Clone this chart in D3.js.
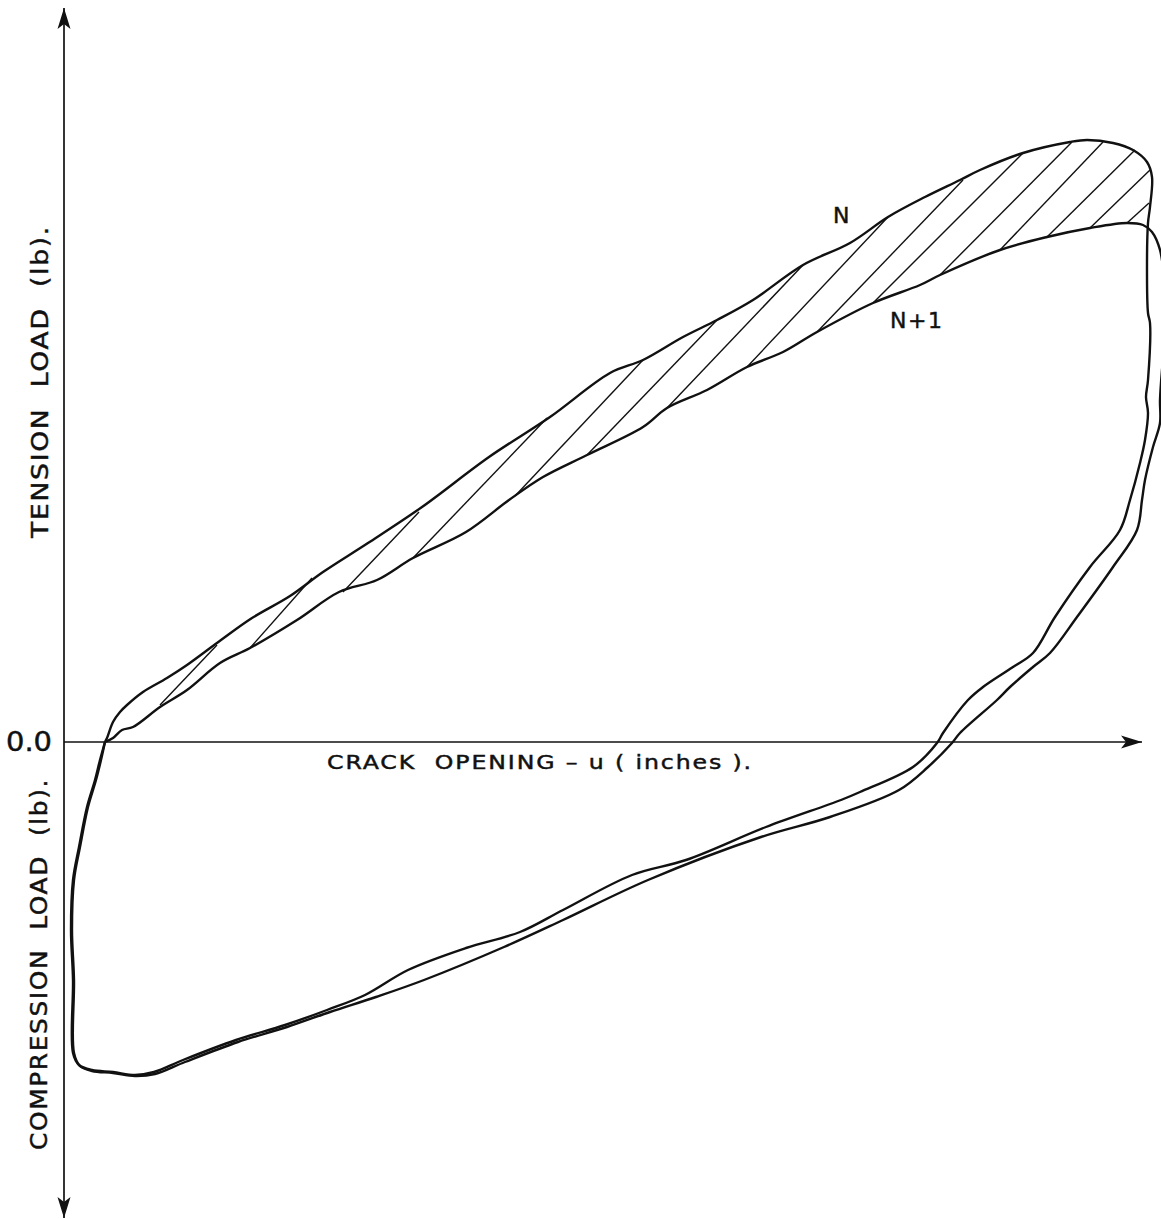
<!DOCTYPE html>
<html>
<head>
<meta charset="utf-8">
<script src="https://cdn.jsdelivr.net/npm/d3@7"></script>
<style>
  html, body { margin: 0; padding: 0; background: #fff; }
  svg { display: block; }
  text { font-family: "DejaVu Sans", "Liberation Sans", Arial, sans-serif; fill: #111; stroke: #111; stroke-width: 0.45; white-space: pre; }
</style>
</head>
<body>
<svg id="chart" width="1161" height="1219"></svg>
<script>
// ---- Data (crack opening u, load P) in arbitrary chart units ----
// Cycle N : closed hysteresis loop
const cycleN = [
  [41,0],[43,4],[49,20],[56,30],[63,37],[79,50],[103,64],[123,77],[157,102],[188,124],
  [226,146],[259,170],[304,199],[358,235],[425,285],[486,325],[546,369],[579,382],[619,405],
  [653,422],[689,442],[739,477],[786,499],[824,525],[861,545],[896,562],[916,572],[959,589],
  [1006,600],[1023,602],[1049,599],[1069,592],[1083,580],[1088,565],[1086,535],[1084,519],
  [1083,479],[1084,429],[1086,419],[1084,362],[1082,345],[1084,329],[1081,302],[1076,279],
  [1066,242],[1056,212],[1026,175],[991,125],[969,89],[949,75],[919,55],[904,42],[879,9],
  [873,-1],[849,-25],[796,-50],[777,-58],[702,-85],[622,-118],[568,-133],[499,-168],
  [456,-190],[402,-206],[344,-228],[301,-253],[263,-268],[221,-283],[172,-298],[119,-318],
  [90,-330],[71,-333],[49,-330],[28,-328],[15,-323],[9,-311],[9,-238],[7,-188],[9,-138],
  [15,-105],[23,-65],[31,-38],[36,-18],[41,0]
];
// Cycle N+1 : closed hysteresis loop
const cycleN1 = [
  [41,0],[49,4],[58,12],[69,15],[96,35],[123,52],[156,79],[186,94],[233,122],[275,150],
  [313,162],[349,184],[402,210],[445,242],[479,265],[523,287],[579,315],[603,334],[643,352],
  [683,375],[719,390],[753,410],[809,439],[856,457],[876,467],[936,492],[983,505],[1026,514],
  [1063,519],[1079,517],[1088,510],[1096,492],[1101,452],[1102,412],[1098,372],[1096,342],
  [1096,319],[1089,295],[1081,262],[1078,242],[1073,212],[1049,175],[1013,125],[986,89],
  [969,75],[946,55],[933,42],[896,9],[888,-1],[864,-25],[835,-48],[766,-75],[697,-95],
  [584,-138],[499,-178],[440,-205],[360,-238],[312,-255],[266,-270],[223,-285],[174,-300],
  [121,-320],[91,-332],[71,-334],[49,-331],[28,-329],[16,-324],[10,-311],[10,-238],[8,-188],
  [10,-138],[16,-105],[24,-65],[32,-38],[37,-18],[41,0]
];
// Hatching between loading branches (energy difference): [u1,P1,u2,P2]
const hatchSegments = [
  [96,37,153,97],[186,94,248,164],[279,150,355,230],[349,184,483,324],[451,246,579,382],
  [523,287,653,422],[603,334,739,477],[683,375,824,525],[753,410,899,562],[809,439,959,589],
  [876,467,1008,600],[936,492,1039,600],[983,505,1071,592],[1026,514,1086,572],[1063,519,1085,539]
];
const yTickValues = [0];
const curveLabels = [
  { text: "N",   u: 769, p: 519 },
  { text: "N+1", u: 826, p: 414 }
];
const xTitle = "CRACK  OPENING – u ( inches ).";
const yTitleTop = "TENSION  LOAD  (lb).";
const yTitleBottom = "COMPRESSION  LOAD  (lb).";

// ---- Scales ----
const x = d3.scaleLinear().domain([0, 1078]).range([64, 1142]);
const y = d3.scaleLinear().domain([-476, 734]).range([1218, 8]);

const svg = d3.select("#chart");
svg.append("rect").attr("width", 1161).attr("height", 1219).attr("fill", "#fff");

const defs = svg.append("defs");
defs.append("marker")
  .attr("id", "arrow")
  .attr("viewBox", "-22 -8 24 16")
  .attr("refX", 0).attr("refY", 0)
  .attr("markerUnits", "userSpaceOnUse")
  .attr("markerWidth", 24).attr("markerHeight", 16)
  .attr("orient", "auto-start-reverse")
  .append("path")
  .attr("d", "M0,0 L-21,-6.5 L-16,0 L-21,6.5 Z")
  .attr("fill", "#111");

// ---- Axes ----
const [yMin, yMax] = y.domain();
const [xMin, xMax] = x.domain();
svg.append("line")
  .attr("x1", x(0)).attr("x2", x(0))
  .attr("y1", y(yMin)).attr("y2", y(yMax))
  .attr("stroke", "#111").attr("stroke-width", 1.7)
  .attr("marker-start", "url(#arrow)").attr("marker-end", "url(#arrow)");
svg.append("line")
  .attr("x1", x(xMin)).attr("x2", x(xMax))
  .attr("y1", y(0)).attr("y2", y(0))
  .attr("stroke", "#111").attr("stroke-width", 1.4)
  .attr("marker-end", "url(#arrow)");

const yAxis = svg.append("g")
  .attr("transform", `translate(${x(0)},0)`)
  .call(d3.axisLeft(y).tickValues(yTickValues).tickFormat(d3.format(".1f")).tickSize(0).tickPadding(12));
yAxis.select(".domain").remove();
yAxis.selectAll("text")
  .attr("font-size", 26)
  .attr("font-family", "'DejaVu Sans', 'Liberation Sans', Arial, sans-serif")
  .attr("fill", "#111")
  .attr("textLength", 46).attr("lengthAdjust", "spacingAndGlyphs");

// ---- Curves ----
const line = d3.line().x(d => x(d[0])).y(d => y(d[1])).curve(d3.curveCatmullRom.alpha(0.5));

svg.append("g").selectAll("line")
  .data(hatchSegments).join("line")
  .attr("x1", d => x(d[0])).attr("y1", d => y(d[1]))
  .attr("x2", d => x(d[2])).attr("y2", d => y(d[3]))
  .attr("stroke", "#111").attr("stroke-width", 1.4);

[cycleN, cycleN1].forEach(c => {
  svg.append("path").datum(c)
    .attr("d", line)
    .attr("fill", "none")
    .attr("stroke", "#111")
    .attr("stroke-width", 2.4)
    .attr("stroke-linejoin", "round");
});

// ---- Labels ----
svg.selectAll(".clab").data(curveLabels).join("text")
  .attr("class", "clab")
  .attr("x", d => x(d.u)).attr("y", d => y(d.p))
  .attr("font-size", 22)
  .attr("textLength", d => d.text.length > 1 ? 52 : null)
  .attr("lengthAdjust", "spacing")
  .text(d => d.text);

svg.append("text")
  .attr("x", 327).attr("y", 769)
  .attr("font-size", 19)
  .attr("letter-spacing", 1.5)
  .attr("textLength", 426).attr("lengthAdjust", "spacingAndGlyphs")
  .text(xTitle);

svg.append("text")
  .attr("transform", "translate(48,538) rotate(-90)")
  .attr("font-size", 23)
  .attr("letter-spacing", 1.5)
  .attr("textLength", 313).attr("lengthAdjust", "spacingAndGlyphs")
  .text(yTitleTop);

svg.append("text")
  .attr("transform", "translate(47,1150) rotate(-90)")
  .attr("font-size", 23)
  .attr("letter-spacing", 1.5)
  .attr("textLength", 372).attr("lengthAdjust", "spacingAndGlyphs")
  .text(yTitleBottom);
</script>
</body>
</html>
